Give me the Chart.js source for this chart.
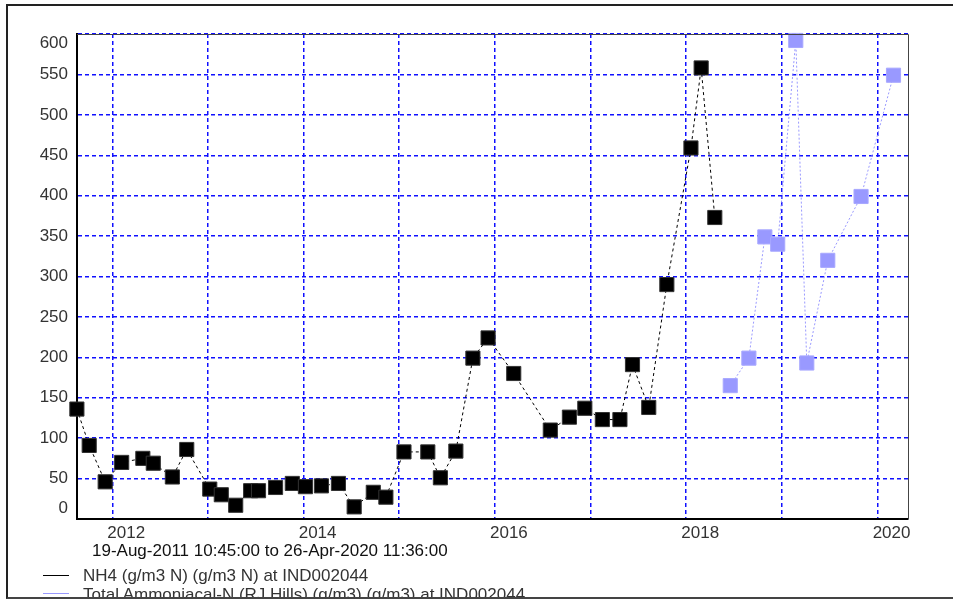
<!DOCTYPE html>
<html>
<head>
<meta charset="utf-8">
<script src="https://cdn.jsdelivr.net/npm/chart.js@4.4.0/dist/chart.umd.min.js"></script>
<style>
    body { margin: 0; width: 953px; height: 599px; overflow: hidden; background: #fff; position: relative;
           font-family: "Liberation Sans", Arial, sans-serif; }
    #myChart { position: absolute; left: 0; top: 0; }
    .frame { position: absolute; left: 6px; top: 4px; width: 980px; height: 591px;
             border-top: 2px solid #222; border-left: 2px solid #222; border-bottom: 2px solid #444; z-index: 5; }
    .txt { position: absolute; font-size: 17px; line-height: 20px; white-space: nowrap; color: #333; }
    .swatch { position: absolute; left: 43px; width: 26px; height: 1px; }
</style>
</head>
<body>
<canvas id="myChart" width="953" height="599"></canvas>
<div class="txt" style="left:92px; top:541px; color:#111;">19-Aug-2011 10:45:00 to 26-Apr-2020 11:36:00</div>
<div class="swatch" style="top:575px; background:#000;"></div>
<div class="txt" style="left:83px; top:566px;">NH4 (g/m3 N) (g/m3 N) at IND002044</div>
<div class="swatch" style="top:593px; background:#9999ff;"></div>
<div class="txt" style="left:83px; top:585px;">Total Ammoniacal-N (RJ Hills) (g/m3) (g/m3) at IND002044</div>
<div class="frame"></div>
<script>
// période affichée
const periodStart = '2011-08-19T10:45:00';
const periodEnd = '2020-04-26T11:36:00';

// NH4 (g/m3 N)
const nh4Dates = ['2011-08-19', '2011-10-05', '2011-12-05', '2012-02-06', '2012-04-27', '2012-06-06',
    '2012-08-18', '2012-10-12', '2013-01-08', '2013-02-21', '2013-04-17', '2013-06-13', '2013-07-13',
    '2013-09-16', '2013-11-19', '2014-01-08', '2014-03-10', '2014-05-14', '2014-07-13', '2014-09-24',
    '2014-11-11', '2015-01-19', '2015-04-20', '2015-06-07', '2015-08-05', '2015-10-09', '2015-12-06',
    '2016-03-13', '2016-07-31', '2016-10-12', '2016-12-10', '2017-02-15', '2017-04-23', '2017-06-10',
    '2017-08-11', '2017-10-19', '2018-01-19', '2018-02-27', '2018-04-20'];
const nh4Values = [136, 91, 46, 70, 75, 69, 52, 86, 37, 30, 17, 35, 35, 39, 44, 40, 41, 44, 15, 33,
    27, 83, 83, 51, 84, 199, 224, 180, 110, 126, 137, 123, 123, 191, 138, 290, 459, 558, 373];

// Total Ammoniacal-N (RJ Hills)
const tanDates = ['2018-06-18', '2018-08-28', '2018-10-28', '2018-12-16', '2019-02-23', '2019-04-06',
    '2019-06-25', '2019-10-30', '2020-03-02'];
const tanValues = [165, 199, 349, 340, 592, 193, 320, 399, 549];

const yMax = 600;
const yStep = 50;

function toYear(s) {
    const d = new Date(s.length > 10 ? s + 'Z' : s + 'T00:00:00Z');
    const y = d.getUTCFullYear();
    const a = Date.UTC(y, 0, 1), b = Date.UTC(y + 1, 0, 1);
    return y + (d - a) / (b - a);
}

function points(dates, values) {
    return dates.map((d, i) => ({ x: toYear(d), y: values[i] }));
}

// libellés de l'axe Y (bornés dans la zone du graphique) et cadre
const framePlugin = {
    id: 'framePlugin',
    afterDraw(chart) {
        const { ctx, chartArea, scales: { y } } = chart;
        ctx.save();
        ctx.strokeStyle = '#444';
        ctx.lineWidth = 1;
        ctx.beginPath();
        ctx.moveTo(chartArea.left, chartArea.top + 0.5);
        ctx.lineTo(chartArea.right + 0.5, chartArea.top + 0.5);
        ctx.lineTo(chartArea.right + 0.5, chartArea.bottom);
        ctx.stroke();

        ctx.font = '17px "Liberation Sans", Arial, sans-serif';
        ctx.fillStyle = '#333';
        ctx.textAlign = 'right';
        ctx.textBaseline = 'middle';
        y.ticks.forEach(t => {
            let py = y.getPixelForValue(t.value);
            py = Math.min(Math.max(py, chartArea.top + 9), chartArea.bottom - 11);
            ctx.fillText(String(t.value), 68, py);
        });
        ctx.restore();
    }
};

const ctx = document.getElementById('myChart').getContext('2d');
new Chart(ctx, {
    type: 'line',
    data: {
        datasets: [{
            label: 'NH4 (g/m3 N) (g/m3 N) at IND002044',
            data: points(nh4Dates, nh4Values),
            borderColor: '#000',
            borderWidth: 1,
            borderDash: [3, 3],
            pointStyle: 'rect',
            pointRadius: 10,
            pointBackgroundColor: '#000',
            pointBorderColor: '#333',
            pointBorderWidth: 1,
            clip: false
        }, {
            label: 'Total Ammoniacal-N (RJ Hills) (g/m3) (g/m3) at IND002044',
            data: points(tanDates, tanValues),
            borderColor: '#9999ff',
            borderWidth: 1,
            borderDash: [2, 2],
            pointStyle: 'rect',
            pointRadius: 10,
            pointBackgroundColor: '#9999ff',
            pointBorderColor: '#a8a8ff',
            pointBorderWidth: 1,
            clip: false
        }]
    },
    options: {
        responsive: false,
        animation: false,
        layout: { padding: { left: 0, top: 34, right: 45, bottom: 60 } },
        plugins: { legend: { display: false }, tooltip: { enabled: false } },
        scales: {
            x: {
                type: 'linear',
                min: toYear(periodStart),
                max: toYear(periodEnd),
                afterFit: s => { s.height = 20; },
                grid: { color: '#1010ff', lineWidth: 1.5, drawTicks: false },
                border: { color: '#000', width: 2, dash: [4, 3] },
                ticks: {
                    stepSize: 1,
                    includeBounds: false,
                    autoSkip: false,
                    maxRotation: 0,
                    labelOffset: 14,
                    padding: 4,
                    color: '#333',
                    font: { family: '"Liberation Sans", Arial, sans-serif', size: 17 },
                    callback: v => (Math.round(v) % 2 === 0 ? String(Math.round(v)) : '')
                }
            },
            y: {
                min: 0,
                max: yMax,
                afterFit: s => { s.width = 77; },
                grid: { color: '#1010ff', lineWidth: 1.5, drawTicks: false },
                border: { color: '#000', width: 2, dash: [4, 3] },
                ticks: { stepSize: yStep, display: false }
            }
        }
    },
    plugins: [framePlugin]
});
</script>
</body>
</html>
